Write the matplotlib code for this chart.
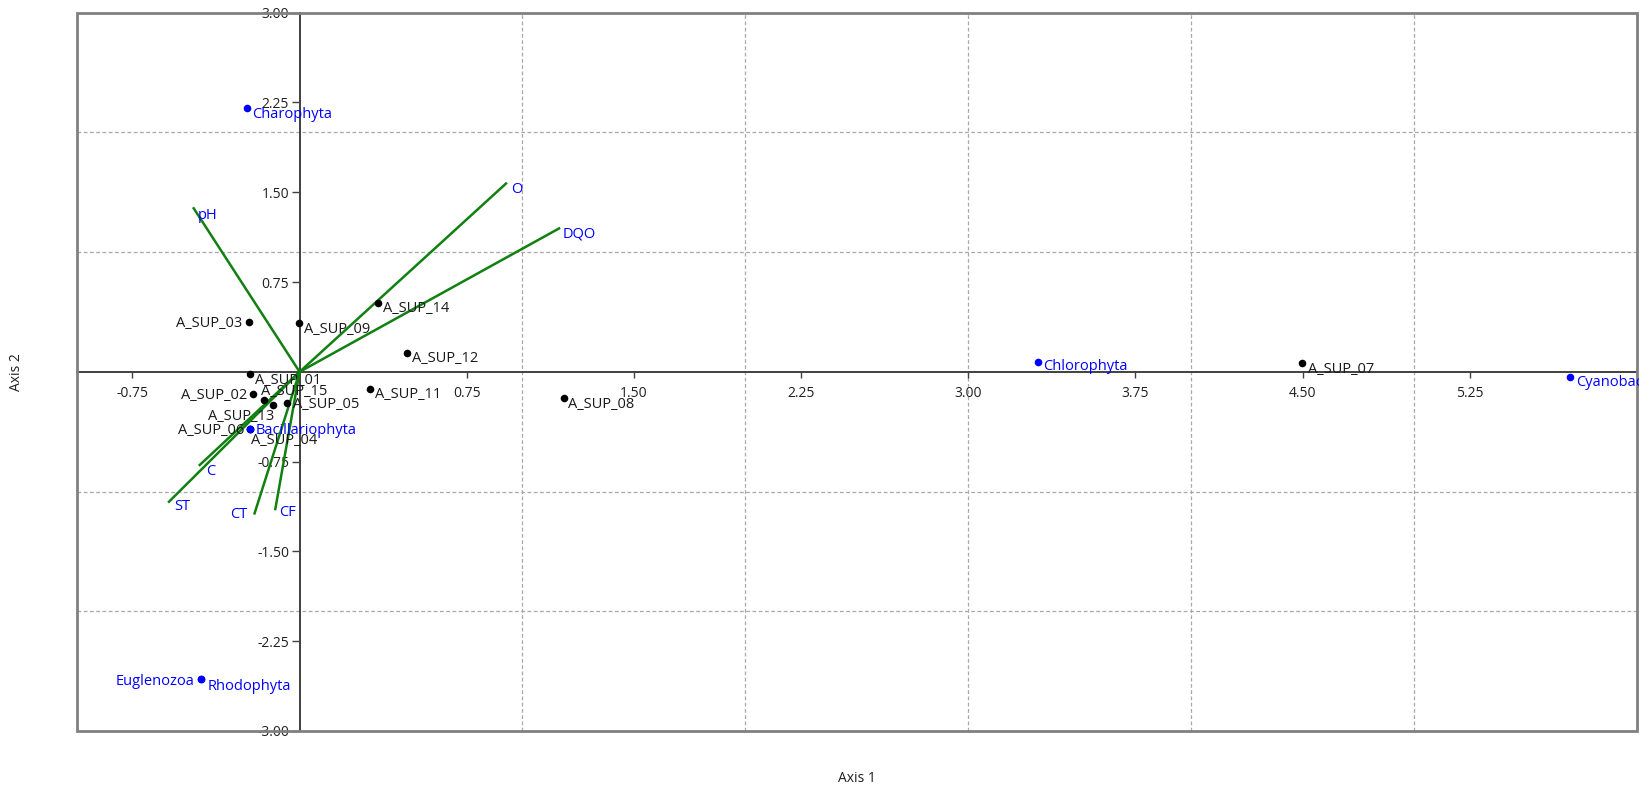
import matplotlib
matplotlib.use("Agg")
import matplotlib.pyplot as plt
from matplotlib.patches import Rectangle
import numpy as np

plt.rcParams['font.family'] = ['Open Sans', 'DejaVu Sans']

# site scores (axis 1, axis 2)
sites = ['A_SUP_01', 'A_SUP_02', 'A_SUP_03', 'A_SUP_04', 'A_SUP_05', 'A_SUP_06',
         'A_SUP_07', 'A_SUP_08', 'A_SUP_09', 'A_SUP_11', 'A_SUP_12', 'A_SUP_13',
         'A_SUP_14', 'A_SUP_15']
site_x = [-0.224, -0.209, -0.227, -0.221, -0.055, -0.221,
          4.498, 1.185, -0.002, 0.314, 0.482, -0.118,
          0.351, -0.160]
site_y = [-0.018, -0.185, 0.420, -0.475, -0.263, -0.475,
          0.072, -0.216, 0.411, -0.146, 0.159, -0.277,
          0.574, -0.235]

# species scores
species = ['Charophyta', 'Bacillariophyta', 'Chlorophyta', 'Cyanobacteria',
           'Euglenozoa', 'Rhodophyta']
sp_x = [-0.237, -0.221, 3.312, 5.701, -0.443, -0.443]
sp_y = [2.203, -0.475, 0.082, -0.043, -2.569, -2.569]

# environmental vectors
env = ['pH', 'O', 'DQO', 'C', 'ST', 'CT', 'CF']
env_x = [-0.475, 0.926, 1.164, -0.448, -0.586, -0.202, -0.109]
env_y = [1.366, 1.573, 1.198, -0.778, -1.085, -1.182, -1.146]

xticks = [-0.75, 0.75, 1.50, 2.25, 3.00, 3.75, 4.50, 5.25]
yticks = [-3.00, -2.25, -1.50, -0.75, 0.75, 1.50, 2.25, 3.00]

# label offsets in pixels (dx, dy, ha)
site_off = {
    'A_SUP_01': (5.7, -6.7, 'left'), 'A_SUP_02': (-6, -2, 'right'),
    'A_SUP_03': (-6.4, -1.7, 'right'), 'A_SUP_04': (1, -11.3, 'left'),
    'A_SUP_05': (5.6, -0.7, 'left'), 'A_SUP_06': (-5.7, -1.3, 'right'),
    'A_SUP_07': (6, -6, 'left'), 'A_SUP_08': (4.6, -6.7, 'left'),
    'A_SUP_09': (5.3, -6.4, 'left'), 'A_SUP_11': (5, -5, 'left'),
    'A_SUP_12': (4.5, -5.7, 'left'), 'A_SUP_13': (1.3, -11, 'right'),
    'A_SUP_14': (5, -5, 'left'), 'A_SUP_15': (-2.6, 8.3, 'left'),
}
sp_off = {
    'Charophyta': (5.4, -6.7, 'left'), 'Bacillariophyta': (5.3, -2, 'left'),
    'Chlorophyta': (5.7, -4.7, 'left'), 'Cyanobacteria': (6, -5.7, 'left'),
    'Euglenozoa': (-6, -1.7, 'right'), 'Rhodophyta': (6.3, -6.7, 'left'),
}
env_off = {
    'pH': (4.5, -7.6, 'left'), 'O': (5, -6.4, 'left'), 'DQO': (3.2, -6, 'left'),
    'C': (6.7, -6.7, 'left'), 'ST': (5.7, -5, 'left'), 'CT': (-6.7, -0.7, 'right'),
    'CF': (4.3, -3.7, 'left'),
}

fig = plt.figure(figsize=(16.4, 7.87), dpi=100)
ax = fig.add_axes([76.7 / 1640, 1 - 731 / 787, (1637 - 76.7) / 1640, (731 - 12.7) / 787])
ax.set_xlim(-1, 6)
ax.set_ylim(-3, 3)

# dashed grid at whole units
for gx in range(1, 6):
    ax.axvline(gx, color='#a8a8a8', lw=0.9, ls=(0, (3, 2)), zorder=0)
for gy in [-2, -1, 1, 2]:
    ax.axhline(gy, color='#a8a8a8', lw=0.9, ls=(0, (3, 2)), zorder=0)

# axes through origin
for side in ['top', 'right']:
    ax.spines[side].set_visible(False)
ax.spines['left'].set_position(('data', 0))
ax.spines['bottom'].set_position(('data', 0))
for side in ['left', 'bottom']:
    ax.spines[side].set_color('#404040')
    ax.spines[side].set_linewidth(1.4)
    ax.spines[side].set_zorder(1)

ax.set_xticks(xticks)
ax.set_yticks(yticks)
ax.set_xticklabels([f'{v:.2f}' for v in xticks])
ax.set_yticklabels([f'{v:.2f}' for v in yticks])
ax.tick_params(axis='x', direction='out', length=4, width=1, color='#404040',
               pad=6, labelsize=10, labelcolor='#202020')
ax.tick_params(axis='y', direction='out', length=6, width=1, color='#404040',
               pad=1.5, labelsize=10, labelcolor='#202020')

# frame
ax.add_patch(Rectangle((0, 0), 1, 1, transform=ax.transAxes, fill=False,
                       edgecolor='#808080', lw=2, clip_on=False, zorder=5))

# environmental vectors
for name, ex, ey in zip(env, env_x, env_y):
    ax.plot([0, ex], [0, ey], color='#108010', lw=1.8, zorder=3)
    dx, dy, ha = env_off[name]
    ax.annotate(name, (ex, ey), xytext=(dx, dy), textcoords='offset pixels',
                ha=ha, va='center', color='#0000ff', fontsize=10.5, zorder=6)

# sites
ax.scatter(site_x, site_y, s=30, color='black', zorder=4, linewidths=0)
for name, x, y in zip(sites, site_x, site_y):
    dx, dy, ha = site_off[name]
    ax.annotate(name, (x, y), xytext=(dx, dy), textcoords='offset pixels',
                ha=ha, va='center', color='#1a1a1a', fontsize=10.5, zorder=6)

# species
ax.scatter(sp_x, sp_y, s=30, color='#0000ff', zorder=4, linewidths=0)
for name, x, y in zip(species, sp_x, sp_y):
    dx, dy, ha = sp_off[name]
    t = ax.annotate(name, (x, y), xytext=(dx, dy), textcoords='offset pixels',
                    ha=ha, va='center', color='#0000ff', fontsize=10.5, zorder=6)
    t.set_clip_on(True)

fig.text(856.8 / 1640, 1 - 778.3 / 787, 'Axis 1', ha='center', va='center',
         fontsize=10, color='#202020')
fig.text(17 / 1640, 1 - 372 / 787, 'Axis 2', ha='center', va='center',
         rotation=90, fontsize=10, color='#202020')

fig.savefig('out.png', dpi=100)
